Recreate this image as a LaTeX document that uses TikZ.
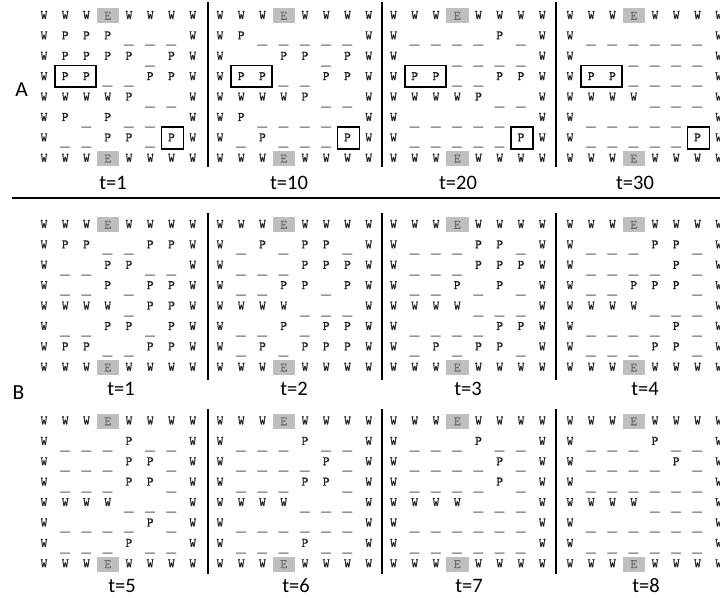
\documentclass[tikz,border=0pt]{standalone}
\usepackage{fontspec}
\usepackage{graphicx}
\newfontfamily\lblfont{Carlito}
\newfontfamily\gridfont{lmmono10-regular.otf}[FakeBold=0.7]
\newcommand\colp{21.25}
\newcommand\rowp{20.4}
\tikzset{
  glyph/.style={inner sep=0pt, font=\gridfont\fontsize{13}{13}\selectfont, text=black!88},
  ecell/.style={glyph, fill=black!25, minimum width=22.5pt, minimum height=15pt, text=black!58},
  uscore/.style={inner sep=0pt, font=\fontsize{12.5}{12.5}\selectfont\ttfamily, text=black!55},
  pbox/.style={draw=black, line width=1.8pt, inner sep=0pt},
  sepline/.style={line width=1.6pt, black},
  tlabel/.style={font=\lblfont\fontsize{20.5}{20.5}\selectfont, inner sep=0pt},
  panellabel/.style={font=\lblfont\fontsize{21.5}{21.5}\selectfont, inner sep=0pt},
}
\newcommand\cellW[3]{\node[glyph] (#1) at ({#2},{#3}) {W};}
\newcommand\cellP[3]{\node[glyph] (#1) at ({#2},{#3}) {P};}
\newcommand\cellE[3]{\node[ecell] (#1) at ({#2},{#3+0.8}) {E};}
\newcommand\cellU[3]{\node[uscore] (#1) at ({#2},{#3+9.3}) {\scalebox{2.1}[1.5]{\_}};}
\newcommand\cellN[3]{}
\newcommand\drawgrid[4]{%
  \foreach \rw [count=\ri from 0] in {#4} {
    \foreach \ch [count=\ci from 0] in \rw {
      \csname cell\ch\endcsname{#1-\ri-\ci}{#2+\ci*\colp}{#3+\ri*\rowp}
    }
  }
}
\begin{document}
\begin{tikzpicture}[x=1pt,y=-1pt]
\useasboundingbox (0,0) rectangle (720,597);
% ---------- Part A ----------
\drawgrid{a1}{44}{15}{{W,W,W,E,W,W,W,W},{W,P,P,P,U,U,U,W},{W,P,P,P,P,U,P,W},{W,P,P,U,U,P,P,W},{W,W,W,W,P,U,U,W},{W,P,U,P,U,U,N,W},{W,U,U,P,P,U,P,W},{W,W,W,E,W,W,W,W}}
\drawgrid{a2}{220}{15}{{W,W,W,E,W,W,W,W},{W,P,U,U,U,U,U,W},{W,N,N,P,P,U,P,W},{W,P,P,U,U,P,P,W},{W,W,W,W,P,U,U,W},{W,P,U,U,U,U,N,W},{W,U,P,U,U,U,P,W},{W,W,W,E,W,W,W,W}}
\drawgrid{a3}{393.5}{15}{{W,W,W,E,W,W,W,W},{W,U,U,U,U,P,U,W},{W,N,N,U,U,U,U,W},{W,P,P,U,U,P,P,W},{W,W,W,W,P,U,U,W},{W,U,U,U,U,U,N,W},{W,U,U,U,U,U,P,W},{W,W,W,E,W,W,W,W}}
\drawgrid{a4}{570}{15}{{W,W,W,E,W,W,W,W},{W,U,U,U,U,U,U,W},{W,N,N,U,U,U,U,W},{W,P,P,U,U,U,U,W},{W,W,W,W,U,U,U,W},{W,U,U,U,U,U,N,W},{W,U,U,U,U,U,P,W},{W,W,W,E,W,W,W,W}}
\foreach \nm/\xo in {a1/44,a2/220,a3/393.5,a4/570}{
  \node[pbox, minimum width=41pt, minimum height=21.5pt] (\nm-pp) at ({\xo+1.5*\colp},{15+3*\rowp}) {};
  \node[pbox, minimum width=22pt, minimum height=22.5pt] (\nm-p) at ({\xo+6*\colp+1},{15+6*\rowp+0.5}) {};
}
\foreach \k/\xs in {1/208,2/382,3/556}{
  \coordinate (sat\k) at (\xs,2);
  \coordinate (sab\k) at (\xs,167);
  \draw[sepline] (sat\k) -- (sab\k);
}
\node[tlabel] (la1) at (113,183) {t=1};
\node[tlabel] (la2) at (289,183) {t=10};
\node[tlabel] (la3) at (458,183) {t=20};
\node[tlabel] (la4) at (635,183) {t=30};
\node[panellabel] (labA) at (21.5,90) {A};
\coordinate (hl1) at (12,198);
\coordinate (hl2) at (722,198);
\draw[sepline] (hl1) -- (hl2);
% ---------- Part B, top ----------
\drawgrid{b1}{44}{224}{{W,W,W,E,W,W,W,W},{W,P,P,U,U,P,P,W},{W,U,U,P,P,U,U,W},{W,U,U,P,U,P,P,W},{W,W,W,W,U,P,P,W},{W,U,U,P,P,U,P,W},{W,P,P,U,U,P,P,W},{W,W,W,E,W,W,W,W}}
\drawgrid{b2}{220}{224}{{W,W,W,E,W,W,W,W},{W,U,P,U,P,P,U,W},{W,U,U,U,P,P,P,W},{W,U,U,P,P,U,P,W},{W,W,W,W,U,U,U,W},{W,U,U,P,U,P,P,W},{W,U,P,U,P,P,P,W},{W,W,W,E,W,W,W,W}}
\drawgrid{b3}{393.5}{224}{{W,W,W,E,W,W,W,W},{W,U,U,U,P,P,U,W},{W,U,U,U,P,P,P,W},{W,U,U,P,U,P,U,W},{W,W,W,W,U,U,U,W},{W,U,U,U,U,P,P,W},{W,U,P,U,P,P,U,W},{W,W,W,E,W,W,W,W}}
\drawgrid{b4}{570}{224}{{W,W,W,E,W,W,W,W},{W,U,U,U,P,P,U,W},{W,U,U,U,U,P,U,W},{W,U,U,P,P,P,U,W},{W,W,W,W,U,U,U,W},{W,U,U,U,U,P,U,W},{W,U,U,U,P,P,U,W},{W,W,W,E,W,W,W,W}}
\foreach \k/\xs in {1/208,2/382,3/556}{
  \coordinate (sbt\k) at (\xs,213);
  \coordinate (sbb\k) at (\xs,380);
  \draw[sepline] (sbt\k) -- (sbb\k);
}
\node[tlabel] (lb1) at (121,389) {t=1};
\node[tlabel] (lb2) at (294,389) {t=2};
\node[tlabel] (lb3) at (468,389) {t=3};
\node[tlabel] (lb4) at (645,389) {t=4};
\node[panellabel] (labB) at (18.5,393) {B};
% ---------- Part B, bottom ----------
\drawgrid{b5}{44}{420.5}{{W,W,W,E,W,W,W,W},{W,U,U,U,P,U,U,W},{W,U,U,U,P,P,U,W},{W,U,U,U,P,P,U,W},{W,W,W,W,U,U,U,W},{W,U,U,U,U,P,U,W},{W,U,U,U,P,U,U,W},{W,W,W,E,W,W,W,W}}
\drawgrid{b6}{220}{420.5}{{W,W,W,E,W,W,W,W},{W,U,U,U,P,U,U,W},{W,U,U,U,U,P,U,W},{W,U,U,U,P,P,U,W},{W,W,W,W,U,U,U,W},{W,U,U,U,U,U,U,W},{W,U,U,U,P,U,U,W},{W,W,W,E,W,W,W,W}}
\drawgrid{b7}{393.5}{420.5}{{W,W,W,E,W,W,W,W},{W,U,U,U,P,U,U,W},{W,U,U,U,U,P,U,W},{W,U,U,U,U,P,U,W},{W,W,W,W,U,U,U,W},{W,U,U,U,U,U,U,W},{W,U,U,U,U,U,U,W},{W,W,W,E,W,W,W,W}}
\drawgrid{b8}{570}{420.5}{{W,W,W,E,W,W,W,W},{W,U,U,U,P,U,U,W},{W,U,U,U,U,P,U,W},{W,U,U,U,U,U,U,W},{W,W,W,W,U,U,U,W},{W,U,U,U,U,U,U,W},{W,U,U,U,U,U,U,W},{W,W,W,E,W,W,W,W}}
\foreach \k/\xs in {1/208,2/382,3/556}{
  \coordinate (sct\k) at (\xs,409);
  \coordinate (scb\k) at (\xs,574);
  \draw[sepline] (sct\k) -- (scb\k);
}
\node[tlabel] (lc1) at (122,586) {t=5};
\node[tlabel] (lc2) at (296,586) {t=6};
\node[tlabel] (lc3) at (469,586) {t=7};
\node[tlabel] (lc4) at (646,586) {t=8};
\end{tikzpicture}
\end{document}
